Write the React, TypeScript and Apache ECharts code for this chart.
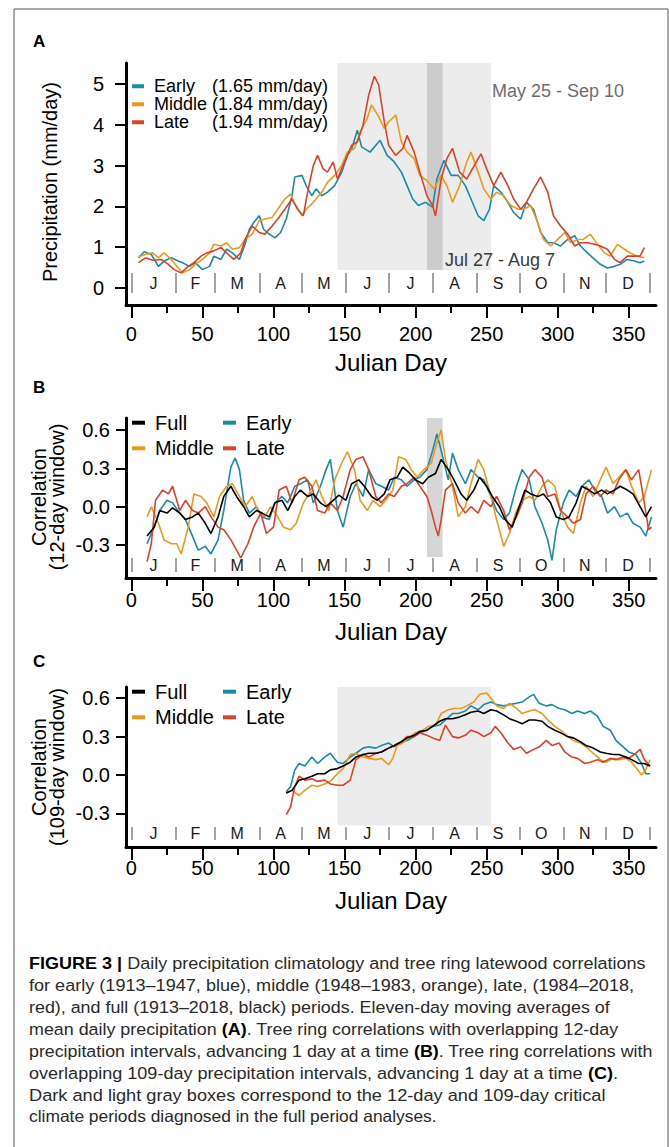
import React, { useEffect, useRef } from "react";
import * as echarts from "echarts";

const FONT = "'Liberation Sans', Arial, Helvetica, sans-serif";
const COLORS: Record<string, string> = {
  Full: "#000000",
  Early: "#1b8aa7",
  Middle: "#e99a1f",
  Late: "#d8432a",
};

// ---------- axes / ticks ----------
const X_MIN = -3.8;
const X_MAX = 369.2;
const xMajorTicks = [0, 50, 100, 150, 200, 250, 300, 350];
const xMinorTicks = [25, 75, 125, 175, 225, 275, 325];
const monthBounds = [0, 31, 59, 90, 120, 151, 181, 212, 243, 273, 304, 334, 365];
const monthMids = [15.5, 45, 74.5, 105, 135.5, 166, 196.5, 227.5, 258, 288.5, 319, 349.5];
const monthLetters = ["J", "F", "M", "A", "M", "J", "J", "A", "S", "O", "N", "D"];
const precipTicks = [0, 1, 2, 3, 4, 5];
const corrTicks = [-0.3, 0, 0.3, 0.6];

// critical periods (Julian day)
const lightPeriod = [145, 253]; // May 25 - Sep 10
const darkPeriod = [208, 219]; // Jul 27 - Aug 7

const legendMeans: Record<string, string> = {
  Early: "(1.65 mm/day)",
  Middle: "(1.84 mm/day)",
  Late: "(1.94 mm/day)",
};

// ---------- Panel A: precipitation (mm/day) ----------
const aEarlyDays = [5, 9, 14, 19, 23, 28, 33, 36, 41, 45, 50, 55, 58, 63, 67, 71, 76, 80, 83, 86, 90, 93, 97, 101, 105, 109, 113, 115, 120, 123, 127, 130, 134, 138, 143, 148, 152, 155, 159, 162, 168, 175, 180, 185, 190, 194, 198, 202, 207, 212, 215, 220, 225, 230, 235, 239, 244, 248, 252, 255, 260, 265, 269, 274, 278, 283, 288, 293, 297, 302, 307, 312, 316, 321, 326, 330, 335, 340, 344, 349, 354, 358, 361];
const aEarlyVals = [0.74, 0.89, 0.82, 0.53, 0.66, 0.74, 0.66, 0.62, 0.53, 0.62, 0.45, 0.53, 0.78, 0.70, 0.95, 0.86, 0.70, 1.07, 1.44, 1.60, 1.77, 1.44, 1.32, 1.23, 1.36, 1.69, 2.26, 2.72, 2.76, 2.51, 2.26, 2.43, 2.26, 2.35, 2.51, 2.84, 3.25, 3.40, 3.87, 3.46, 3.33, 3.62, 3.25, 3.09, 2.84, 2.51, 2.18, 2.02, 2.10, 1.98, 2.67, 3.13, 2.76, 2.76, 2.51, 2.18, 1.77, 1.65, 1.93, 2.51, 2.35, 2.10, 1.85, 1.69, 2.10, 1.93, 1.36, 1.11, 1.11, 1.03, 1.19, 1.28, 1.03, 0.86, 0.70, 0.58, 0.49, 0.53, 0.58, 0.70, 0.66, 0.62, 0.66];

const aMiddleDays = [5, 10, 15, 19, 23, 28, 33, 36, 41, 45, 50, 55, 58, 63, 67, 71, 76, 80, 85, 90, 94, 99, 103, 108, 112, 115, 120, 123, 128, 134, 138, 143, 148, 152, 157, 161, 166, 169, 174, 178, 181, 186, 190, 194, 199, 203, 208, 213, 218, 222, 226, 231, 236, 239, 244, 248, 253, 257, 262, 267, 272, 276, 281, 286, 290, 295, 300, 305, 309, 314, 318, 323, 328, 333, 337, 342, 347, 351, 356, 361];
const aMiddleVals = [0.77, 0.82, 0.86, 0.74, 0.86, 0.70, 0.49, 0.37, 0.45, 0.58, 0.70, 0.86, 1.07, 1.03, 1.11, 0.95, 0.99, 1.19, 1.32, 1.65, 1.69, 1.73, 1.93, 2.18, 2.30, 2.06, 1.77, 1.93, 2.10, 2.35, 2.59, 2.76, 3.00, 3.33, 3.42, 3.83, 4.16, 4.49, 4.20, 3.91, 4.07, 4.24, 3.58, 3.33, 3.17, 2.76, 2.63, 2.43, 2.76, 2.51, 2.10, 2.51, 3.09, 3.33, 2.84, 2.43, 2.18, 2.35, 2.26, 2.02, 1.93, 1.93, 2.02, 1.60, 1.19, 1.03, 1.19, 1.36, 1.11, 1.19, 1.19, 1.32, 1.07, 0.86, 0.78, 1.07, 0.95, 0.86, 0.78, 0.74];

const aLateDays = [5, 10, 15, 21, 26, 30, 35, 40, 44, 49, 53, 58, 63, 67, 72, 77, 80, 85, 90, 94, 99, 103, 108, 113, 117, 121, 124, 128, 131, 135, 138, 142, 145, 150, 155, 159, 163, 167, 171, 174, 178, 181, 186, 191, 194, 199, 203, 208, 212, 214, 218, 222, 226, 231, 236, 240, 246, 250, 255, 260, 265, 269, 274, 278, 283, 288, 293, 297, 302, 307, 312, 316, 321, 326, 330, 335, 340, 344, 349, 354, 358, 361];
const aLateVals = [0.62, 0.74, 0.68, 0.70, 0.58, 0.45, 0.37, 0.53, 0.62, 0.78, 0.86, 0.91, 0.99, 0.86, 0.70, 0.86, 1.19, 1.52, 1.36, 1.32, 1.52, 1.69, 1.93, 2.18, 1.93, 1.77, 2.35, 3.00, 3.25, 2.92, 2.84, 3.09, 2.67, 3.09, 3.50, 3.58, 3.99, 4.73, 5.19, 4.98, 4.07, 3.50, 3.25, 3.42, 3.74, 3.33, 2.84, 2.26, 2.02, 1.77, 2.67, 3.17, 3.42, 2.84, 2.67, 2.92, 3.29, 2.92, 2.51, 2.84, 2.51, 2.18, 1.93, 2.10, 2.43, 2.72, 2.35, 1.77, 1.52, 1.32, 1.03, 1.11, 1.11, 1.07, 1.03, 0.95, 0.70, 0.62, 0.78, 0.78, 0.78, 0.99];

// ---------- Panel B: correlation, 12-day window ----------
const bFullDays = [11, 16, 20, 25, 29, 34, 38, 43, 47, 52, 56, 61, 65, 70, 74, 79, 83, 88, 92, 97, 101, 106, 110, 115, 119, 124, 128, 133, 137, 142, 146, 151, 155, 160, 164, 169, 173, 178, 182, 187, 191, 196, 200, 205, 209, 214, 218, 223, 227, 232, 236, 241, 245, 250, 254, 259, 263, 268, 272, 277, 281, 286, 290, 295, 299, 304, 308, 313, 317, 322, 326, 331, 335, 340, 344, 349, 353, 358, 362, 366];
const bFullVals = [-0.23, -0.16, -0.03, -0.05, -0.01, -0.05, -0.10, -0.08, -0.05, -0.13, -0.21, -0.08, 0.08, 0.16, 0.08, 0.0, -0.08, -0.03, -0.05, -0.08, 0.03, 0.05, -0.03, 0.08, 0.13, 0.08, 0.10, 0.03, 0.0, 0.05, 0.09, 0.05, 0.18, 0.21, 0.16, 0.08, 0.05, 0.10, 0.21, 0.23, 0.31, 0.26, 0.21, 0.18, 0.23, 0.26, 0.37, 0.29, 0.21, 0.10, 0.05, 0.13, 0.23, 0.16, 0.08, 0.0, -0.10, -0.16, -0.03, 0.13, 0.10, 0.08, 0.10, 0.03, -0.08, -0.10, -0.08, 0.03, 0.16, 0.13, 0.10, 0.13, 0.10, 0.13, 0.16, 0.13, 0.10, 0.0, -0.08, 0.0];

const bEarlyDays = [11, 16, 20, 25, 29, 34, 38, 43, 47, 52, 56, 61, 65, 70, 73, 76, 79, 83, 88, 92, 97, 101, 106, 110, 115, 119, 124, 128, 133, 137, 140, 145, 149, 154, 158, 163, 167, 172, 176, 181, 185, 190, 194, 199, 203, 208, 212, 215, 218, 223, 226, 230, 235, 239, 244, 248, 253, 257, 262, 266, 271, 275, 280, 284, 289, 293, 296, 299, 304, 308, 313, 317, 322, 326, 331, 335, 340, 344, 349, 353, 358, 362, 366];
const bEarlyVals = [-0.29, -0.16, -0.03, 0.05, 0.03, -0.05, -0.10, -0.23, -0.34, -0.31, -0.37, -0.26, -0.03, 0.31, 0.38, 0.29, 0.05, -0.05, 0.0, -0.08, -0.10, 0.03, 0.08, 0.03, 0.16, 0.18, 0.21, 0.03, 0.16, 0.29, 0.37, -0.03, -0.16, 0.08, 0.18, 0.08, 0.29, 0.18, 0.16, 0.13, 0.23, 0.21, 0.16, 0.21, 0.23, 0.29, 0.44, 0.57, 0.44, 0.21, 0.42, 0.29, 0.18, 0.29, 0.23, 0.21, 0.08, -0.03, -0.10, -0.05, 0.16, 0.29, 0.21, 0.0, -0.13, -0.26, -0.42, -0.18, 0.03, 0.13, 0.08, 0.16, 0.21, 0.13, 0.08, -0.05, 0.0, -0.08, -0.05, -0.13, -0.16, -0.23, -0.08];

const bMiddleDays = [11, 14, 19, 23, 28, 32, 35, 40, 44, 49, 53, 58, 62, 67, 71, 76, 80, 85, 89, 94, 98, 103, 107, 112, 116, 121, 125, 130, 134, 139, 143, 148, 152, 157, 161, 166, 170, 175, 179, 184, 188, 193, 197, 201, 206, 211, 215, 218, 221, 226, 230, 235, 239, 244, 248, 253, 257, 262, 266, 271, 275, 280, 284, 289, 293, 298, 302, 307, 311, 316, 320, 325, 330, 334, 339, 343, 348, 352, 357, 361, 366];
const bMiddleVals = [-0.08, 0.0, -0.13, -0.26, -0.29, -0.29, -0.37, -0.16, 0.10, 0.08, 0.03, -0.08, 0.08, 0.16, 0.18, 0.08, 0.0, 0.08, -0.03, -0.08, 0.0, -0.08, -0.16, -0.18, -0.13, 0.03, 0.10, 0.21, 0.08, -0.03, 0.21, 0.34, 0.43, 0.29, 0.05, -0.03, 0.05, 0.0, 0.05, 0.13, 0.39, 0.37, 0.29, 0.23, 0.29, 0.34, 0.50, 0.60, 0.37, 0.16, -0.08, 0.0, 0.18, 0.37, 0.29, 0.08, -0.10, -0.31, -0.21, -0.03, 0.05, 0.08, 0.05, 0.16, 0.21, 0.16, -0.03, -0.16, -0.21, 0.03, 0.16, 0.08, 0.21, 0.31, 0.18, 0.23, 0.29, 0.16, 0.03, 0.08, 0.29];

const bLateDays = [11, 14, 17, 22, 26, 29, 34, 38, 43, 47, 52, 56, 61, 65, 70, 74, 77, 82, 86, 91, 95, 100, 104, 109, 113, 118, 122, 127, 131, 136, 140, 145, 149, 154, 158, 163, 167, 172, 176, 181, 185, 190, 194, 199, 203, 208, 211, 214, 216, 218, 221, 226, 230, 235, 239, 244, 248, 253, 257, 262, 266, 271, 275, 280, 284, 289, 293, 298, 302, 307, 311, 316, 320, 325, 330, 334, 339, 343, 348, 352, 357, 361, 364, 366];
const bLateVals = [-0.43, -0.29, 0.05, 0.13, 0.10, 0.16, -0.03, 0.05, -0.03, -0.05, 0.0, -0.08, -0.16, -0.18, -0.26, -0.34, -0.40, -0.29, -0.16, -0.05, -0.21, -0.16, 0.13, 0.16, 0.03, 0.21, 0.23, 0.16, -0.03, -0.05, 0.03, -0.03, 0.08, 0.29, 0.37, 0.39, 0.29, 0.08, 0.03, 0.10, 0.08, 0.16, 0.18, 0.23, 0.16, 0.08, -0.03, -0.16, -0.23, -0.10, 0.13, 0.18, 0.03, -0.05, 0.0, -0.05, 0.05, 0.0, 0.08, -0.03, -0.18, -0.08, 0.03, 0.23, 0.29, 0.23, 0.08, 0.10, -0.03, -0.08, -0.13, -0.10, 0.10, 0.16, 0.08, 0.13, 0.10, 0.21, 0.29, 0.21, 0.29, 0.03, -0.18, -0.16];

// ---------- Panel C: correlation, 109-day window ----------
const cFullDays = [109, 113, 118, 122, 127, 131, 136, 140, 145, 149, 154, 158, 163, 167, 172, 176, 181, 185, 190, 194, 199, 203, 208, 212, 217, 221, 226, 230, 235, 239, 244, 248, 253, 257, 262, 266, 271, 275, 280, 284, 289, 293, 298, 302, 307, 311, 316, 320, 325, 330, 334, 339, 343, 348, 352, 357, 361, 365];
const cFullVals = [-0.14, -0.12, -0.04, -0.03, -0.01, 0.01, 0.01, 0.04, 0.05, 0.07, 0.10, 0.14, 0.16, 0.17, 0.17, 0.18, 0.21, 0.23, 0.26, 0.29, 0.31, 0.34, 0.35, 0.38, 0.42, 0.44, 0.44, 0.45, 0.47, 0.49, 0.50, 0.48, 0.51, 0.50, 0.47, 0.44, 0.42, 0.40, 0.43, 0.43, 0.42, 0.38, 0.35, 0.33, 0.30, 0.29, 0.26, 0.23, 0.21, 0.18, 0.17, 0.16, 0.16, 0.14, 0.12, 0.09, 0.09, 0.07];

const cEarlyDays = [109, 112, 115, 118, 122, 127, 131, 136, 140, 145, 149, 154, 158, 163, 167, 172, 176, 181, 185, 190, 194, 199, 203, 208, 212, 217, 221, 226, 230, 235, 239, 244, 248, 253, 257, 262, 266, 271, 275, 280, 283, 287, 292, 296, 301, 305, 310, 314, 319, 323, 328, 332, 337, 341, 346, 350, 355, 359, 362, 365];
const cEarlyVals = [-0.13, -0.09, 0.04, 0.09, 0.07, 0.14, 0.09, 0.14, 0.17, 0.10, 0.09, 0.14, 0.17, 0.21, 0.22, 0.21, 0.23, 0.25, 0.22, 0.26, 0.27, 0.30, 0.33, 0.35, 0.38, 0.39, 0.43, 0.48, 0.48, 0.50, 0.54, 0.51, 0.55, 0.57, 0.55, 0.54, 0.55, 0.56, 0.57, 0.61, 0.63, 0.56, 0.54, 0.55, 0.52, 0.51, 0.48, 0.50, 0.48, 0.50, 0.46, 0.38, 0.35, 0.27, 0.22, 0.18, 0.16, 0.09, 0.01, 0.01];

const cMiddleDays = [109, 113, 118, 122, 127, 131, 136, 140, 145, 149, 154, 158, 163, 167, 172, 176, 181, 184, 187, 191, 196, 200, 205, 209, 214, 218, 223, 227, 232, 236, 241, 245, 250, 253, 257, 262, 266, 271, 275, 280, 284, 289, 293, 298, 302, 307, 311, 316, 320, 325, 330, 334, 339, 343, 348, 352, 357, 359, 362, 365];
const cMiddleVals = [-0.14, -0.12, -0.16, -0.12, -0.08, -0.09, -0.07, -0.05, 0.01, 0.05, 0.16, 0.17, 0.14, 0.13, 0.12, 0.13, 0.08, 0.13, 0.23, 0.25, 0.30, 0.33, 0.35, 0.38, 0.39, 0.48, 0.51, 0.52, 0.52, 0.54, 0.57, 0.63, 0.64, 0.60, 0.54, 0.52, 0.56, 0.52, 0.48, 0.50, 0.51, 0.48, 0.43, 0.38, 0.35, 0.30, 0.27, 0.25, 0.22, 0.17, 0.12, 0.10, 0.13, 0.12, 0.13, 0.10, 0.03, 0.0, 0.04, 0.12];

const cLateDays = [109, 112, 115, 118, 122, 127, 131, 136, 140, 145, 149, 154, 158, 163, 167, 172, 176, 181, 185, 190, 194, 199, 203, 208, 212, 217, 221, 226, 230, 235, 239, 244, 248, 253, 256, 260, 265, 269, 274, 278, 283, 287, 292, 296, 301, 305, 310, 314, 319, 323, 328, 332, 337, 341, 346, 350, 355, 358, 361, 365];
const cLateVals = [-0.31, -0.25, -0.09, -0.01, -0.04, -0.03, -0.05, -0.04, -0.07, -0.08, -0.08, -0.04, 0.12, 0.16, 0.14, 0.17, 0.18, 0.21, 0.23, 0.26, 0.30, 0.30, 0.33, 0.31, 0.29, 0.27, 0.39, 0.30, 0.29, 0.31, 0.35, 0.33, 0.30, 0.33, 0.38, 0.33, 0.25, 0.20, 0.22, 0.17, 0.20, 0.22, 0.27, 0.23, 0.25, 0.18, 0.14, 0.13, 0.09, 0.10, 0.12, 0.10, 0.13, 0.12, 0.14, 0.13, 0.17, 0.20, 0.12, 0.07];

// ---------- caption ----------
const captionLines: [string, boolean][][] = [
  [["FIGURE 3 |", true], [" Daily precipitation climatology and tree ring latewood correlations", false]],
  [["for early (1913–1947, blue), middle (1948–1983, orange), late, (1984–2018,", false]],
  [["red), and full (1913–2018, black) periods. Eleven-day moving averages of", false]],
  [["mean daily precipitation ", false], ["(A)", true], [". Tree ring correlations with overlapping 12-day", false]],
  [["precipitation intervals, advancing 1 day at a time ", false], ["(B)", true], [". Tree ring correlations with", false]],
  [["overlapping 109-day precipitation intervals, advancing 1 day at a time ", false], ["(C)", true], [".", false]],
  [["Dark and light gray boxes correspond to the 12-day and 109-day critical", false]],
  [["climate periods diagnosed in the full period analyses.", false]],
];

function pairs(days: number[], vals: number[]) {
  return days.map((d, i) => [d, vals[i]]);
}

function measure(segs: [string, boolean][], size: number): number {
  const c = document.createElement("canvas").getContext("2d");
  if (!c) return 0;
  let w = 0;
  for (const [t, b] of segs) {
    c.font = `${b ? "bold " : ""}${size}px "Liberation Sans"`;
    w += c.measureText(t).width;
  }
  return w;
}

function buildOption() {
  const GRID_LEFT = 126;
  const GRID_W = 530;
  const panels = [
    { top: 63, height: 242, yMin: -0.417, yMax: 5.515, ticks: precipTicks, fmt: (v: number) => String(v), yMargin: 22, yTick: 11, xMargin: 19, mOff: -12, mLen: 20, mMargin: 2, boxLow: 0.441 },
    { top: 418, height: 160, yMin: -0.558, yMax: 0.694, ticks: corrTicks, fmt: (v: number) => v.toFixed(1), yMargin: 16, yTick: 10, xMargin: 12, mOff: -6, mLen: 14, mMargin: -1, boxLow: -0.394 },
    { top: 687, height: 160, yMin: -0.5625, yMax: 0.6875, ticks: corrTicks, fmt: (v: number) => v.toFixed(1), yMargin: 16, yTick: 10, xMargin: 11, mOff: -7, mLen: 13, mMargin: -1, boxLow: -0.394 },
  ];

  const grid = panels.map((p) => ({ left: GRID_LEFT, top: p.top, width: GRID_W, height: p.height }));
  const xAxis: any[] = [];
  const yAxis: any[] = [];
  panels.forEach((p, g) => {
    xAxis.push({
      gridIndex: g, type: "value", min: X_MIN, max: X_MAX, position: "bottom",
      axisLine: { show: true, onZero: false, lineStyle: { color: "#000", width: 3 } },
      axisTick: { show: true, customValues: xMajorTicks, length: 13, lineStyle: { color: "#000", width: 2 } },
      axisLabel: { customValues: xMajorTicks, fontSize: 20, color: "#000", fontFamily: FONT, margin: p.xMargin },
      splitLine: { show: false },
    });
    xAxis.push({
      gridIndex: g, type: "value", min: X_MIN, max: X_MAX, position: "bottom",
      axisLine: { show: false, onZero: false },
      axisTick: { show: true, customValues: xMinorTicks, length: 8, lineStyle: { color: "#000", width: 2 } },
      axisLabel: { show: false },
      splitLine: { show: false },
    });
    xAxis.push({
      gridIndex: g, type: "value", min: X_MIN, max: X_MAX, position: "bottom", offset: p.mOff,
      axisLine: { show: false, onZero: false },
      axisTick: { show: true, inside: true, customValues: monthBounds, length: p.mLen, lineStyle: { color: "#a3a3a3", width: 2 } },
      axisLabel: {
        inside: true, customValues: monthMids, fontSize: 16, color: "#1a1a1a", fontFamily: FONT, margin: p.mMargin,
        formatter: (v: number) => {
          const i = monthMids.findIndex((m) => Math.abs(m - v) < 0.01);
          return i >= 0 ? monthLetters[i] : "";
        },
      },
      splitLine: { show: false },
    });
    yAxis.push({
      gridIndex: g, type: "value", min: p.yMin, max: p.yMax, position: "left",
      axisLine: { show: true, onZero: false, lineStyle: { color: "#000", width: 3 } },
      axisTick: { show: true, customValues: p.ticks, length: p.yTick, lineStyle: { color: "#000", width: 2 } },
      axisLabel: { customValues: p.ticks, formatter: p.fmt, fontSize: 20, color: "#000", fontFamily: FONT, margin: p.yMargin },
      splitLine: { show: false },
    });
  });

  const line = (name: string, g: number, days: number[], vals: number[], extra: any = {}) => ({
    type: "line", name, xAxisIndex: 3 * g, yAxisIndex: g, data: pairs(days, vals),
    symbol: "none", showSymbol: false, silent: true, animation: false,
    lineStyle: { color: COLORS[name], width: 1.6 }, itemStyle: { color: COLORS[name] },
    ...extra,
  });

  const box = (x0: number, x1: number, y0: number, y1: number, color: string) => [
    { xAxis: x0, yAxis: y0, itemStyle: { color, opacity: 1 } },
    { xAxis: x1, yAxis: y1 },
  ];

  const series = [
    line("Early", 0, aEarlyDays, aEarlyVals, {
      markArea: {
        silent: true, label: { show: false },
        data: [
          box(lightPeriod[0], lightPeriod[1], panels[0].boxLow, panels[0].yMax, "#ececec"),
          box(darkPeriod[0], darkPeriod[1], panels[0].boxLow, panels[0].yMax, "#cdcdcd"),
        ],
      },
    }),
    line("Middle", 0, aMiddleDays, aMiddleVals),
    line("Late", 0, aLateDays, aLateVals),
    line("Early", 1, bEarlyDays, bEarlyVals, {
      markArea: {
        silent: true, label: { show: false },
        data: [box(darkPeriod[0], darkPeriod[1], panels[1].boxLow, panels[1].yMax, "#d6d6d6")],
      },
    }),
    line("Middle", 1, bMiddleDays, bMiddleVals),
    line("Late", 1, bLateDays, bLateVals),
    line("Full", 1, bFullDays, bFullVals),
    line("Early", 2, cEarlyDays, cEarlyVals, {
      markArea: {
        silent: true, label: { show: false },
        data: [box(lightPeriod[0], lightPeriod[1], panels[2].boxLow, panels[2].yMax, "#ececec")],
      },
    }),
    line("Middle", 2, cMiddleDays, cMiddleVals),
    line("Late", 2, cLateDays, cLateVals),
    line("Full", 2, cFullDays, cFullVals),
  ];

  const legendA = {
    data: ["Early", "Middle", "Late"], orient: "vertical", left: 132, top: 77.25, padding: 0,
    itemWidth: 12, itemHeight: 4, itemGap: 0, icon: "rect", selectedMode: false,
    formatter: (name: string) => `{n|${name}}{v|${legendMeans[name]}}`,
    textStyle: {
      fontSize: 18, fontFamily: FONT, color: "#000", lineHeight: 17.5,
      rich: {
        n: { fontSize: 18, fontFamily: FONT, color: "#000", width: 58, padding: [0, 0, 0, 5], lineHeight: 17.5 },
        v: { fontSize: 18, fontFamily: FONT, color: "#000", lineHeight: 17.5 },
      },
    },
  };
  const corrLegend = (names: string[], top: number) => ({
    data: names, orient: "horizontal", left: 132, top, padding: 0,
    itemWidth: 13, itemHeight: 4, itemGap: 5, icon: "rect", selectedMode: false,
    formatter: (name: string) => `{n|${name}}`,
    textStyle: {
      fontSize: 20, fontFamily: FONT, color: "#000", lineHeight: 20,
      rich: { n: { fontSize: 20, fontFamily: FONT, color: "#000", width: 63, padding: [0, 0, 0, 5], lineHeight: 20 } },
    },
  });
  const legend = [
    legendA,
    corrLegend(["Full", "Early"], 412.7),
    corrLegend(["Middle", "Late"], 438.3),
    corrLegend(["Full", "Early"], 681.7),
    corrLegend(["Middle", "Late"], 707.3),
  ];

  const txt = (text: string, x: number, y: number, size: number, opts: any = {}) => ({
    type: "text", x, y, silent: true, z: 100, rotation: opts.rotation || 0,
    style: {
      text, fontSize: size, fontFamily: FONT, fill: opts.fill || "#000",
      fontWeight: opts.bold ? "bold" : "normal",
      align: opts.align || "center", verticalAlign: "middle",
    },
  });

  const R = Math.PI / 2;
  const graphics: any[] = [
    { type: "rect", silent: true, z: 100, shape: { x: 14, y: 9, width: 654, height: 1160 }, style: { fill: "none", stroke: "#555", lineWidth: 1 } },
    txt("A", 33, 41, 17, { bold: true, align: "left" }),
    txt("B", 33, 387, 17, { bold: true, align: "left" }),
    txt("C", 33, 661, 17, { bold: true, align: "left" }),
    txt("Precipitation (mm/day)", 49.5, 182, 20, { rotation: R }),
    txt("Correlation", 38.5, 497, 20, { rotation: R }),
    txt("(12-day window)", 57, 497, 20, { rotation: R }),
    txt("Correlation", 38.5, 767, 20, { rotation: R }),
    txt("(109-day window)", 57, 767, 20, { rotation: R }),
    txt("Julian Day", 391, 362, 24),
    txt("Julian Day", 391, 631, 24),
    txt("Julian Day", 391, 900, 24),
    txt("May 25 - Sep 10", 492, 91, 18, { align: "left", fill: "#6e6e6e" }),
    txt("Jul 27 - Aug 7", 445, 260, 18, { align: "left", fill: "#3a3a3a" }),
  ];

  const captionRight = [646, 635, 610, 619, 653, 618, 606, 437];
  const CAP_SIZE = 16.5;
  captionLines.forEach((segs, i) => {
    const w = measure(segs, CAP_SIZE);
    let sx = w > 0 ? (captionRight[i] - 29) / w : 1;
    sx = Math.max(0.75, Math.min(1.25, sx));
    const text = segs.map(([t, b]) => `{${b ? "b" : "r"}|${t}}`).join("");
    graphics.push({
      type: "text", x: 29, y: 963 + 22 * i, scaleX: sx, silent: true, z: 100,
      style: {
        text, fontSize: CAP_SIZE, fontFamily: FONT, fill: "#2a2a2a", align: "left", verticalAlign: "middle",
        rich: {
          b: { fontSize: CAP_SIZE, fontFamily: FONT, fontWeight: "bold", fill: "#000" },
          r: { fontSize: CAP_SIZE, fontFamily: FONT, fill: "#2a2a2a" },
        },
      },
    });
  });

  return {
    animation: false,
    backgroundColor: "#ffffff",
    textStyle: { fontFamily: FONT },
    grid, xAxis, yAxis, series, legend,
    graphic: { elements: graphics },
  };
}

export default function App() {
  const ref = useRef<HTMLDivElement>(null);
  useEffect(() => {
    if (!ref.current) return;
    const chart = echarts.init(ref.current, null, { renderer: "svg" });
    chart.setOption(buildOption() as any);
    return () => chart.dispose();
  }, []);
  return (
    <div
      ref={ref}
      style={{ position: "absolute", left: 0, top: 0, width: 669, height: 1147, background: "#fff" }}
    />
  );
}
